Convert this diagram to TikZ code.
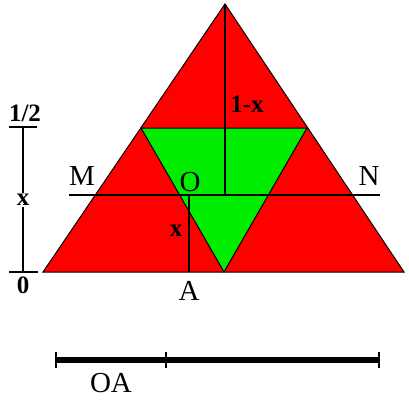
\documentclass[tikz,border=0pt]{standalone}
\usepackage{fontspec}
\setmainfont{Liberation Serif}
\begin{document}
\begin{tikzpicture}[x=1pt,y=-1pt,
  lbl/.style={font=\fontsize{29}{29}\selectfont, inner sep=0pt},
  blbl/.style={font=\fontsize{25}{25}\selectfont\bfseries, inner sep=0pt},
  edge/.style={draw=black, line width=1pt},
  guide/.style={draw=black, line width=1.2pt},
  scaleline/.style={draw=black, line width=5.5pt},
  tick/.style={draw=black, line width=1.5pt}]
\definecolor{tred}{RGB}{255,0,0}
\definecolor{tgreen}{RGB}{0,236,0}
\useasboundingbox (0,0) rectangle (409,402);
% main triangle
\coordinate (T) at (225,4);
\coordinate (BL) at (43,272);
\coordinate (BR) at (404,272);
\fill[tred, edge] (T) -- (BR) -- (BL) -- cycle;
% inner green triangle
\coordinate (G1) at (141,128);
\coordinate (G2) at (307,128);
\coordinate (G3) at (224,272);
\fill[tgreen, edge] (G1) -- (G2) -- (G3) -- cycle;
% MN line and verticals
\coordinate (Mend) at (69,195);
\coordinate (Nend) at (380,195);
\coordinate (Tfoot) at (225,195);
\coordinate (Otop) at (189,195);
\coordinate (Afoot) at (189,272);
\draw[guide] (Mend) -- (Nend);
\draw[guide] (T) -- (Tfoot);
\draw[guide] (Otop) -- (Afoot);
% labels
\node[lbl] (M) at (82,176) {M};
\node[lbl] (N) at (369,176) {N};
\node[lbl] (O) at (190,182) {O};
\node[lbl] (A) at (189,291) {A};
\node[blbl] (omx) at (247,104) {1-x};
\node[blbl] (xa) at (176,231) {x};
% left scale
\coordinate (Ltop) at (23,127);
\coordinate (Lbot) at (23,272);
\coordinate (LtA) at (9,127);
\coordinate (LtB) at (37,127);
\coordinate (LbA) at (9,272);
\coordinate (LbB) at (38,272);
\draw[guide] (Ltop) -- (Lbot);
\draw[guide] (LtA) -- (LtB);
\draw[guide] (LbA) -- (LbB);
\node[blbl] (half) at (25,113) {1/2};
\node[blbl, fill=white, inner sep=1pt] (xl) at (23,200) {x};
\node[blbl] (zero) at (23,285) {0};
% bottom scale
\coordinate (S0) at (56,360);
\coordinate (S1) at (166,360);
\coordinate (S2) at (379,360);
\draw[scaleline] (S0) -- (S2);
\draw[tick] ([yshift=-8pt]S0) -- ([yshift=8pt]S0);
\draw[tick] ([yshift=-8pt]S1) -- ([yshift=8pt]S1);
\draw[tick] ([yshift=-8pt]S2) -- ([yshift=8pt]S2);
\node[lbl] (OA) at (111,383) {OA};
\end{tikzpicture}
\end{document}
